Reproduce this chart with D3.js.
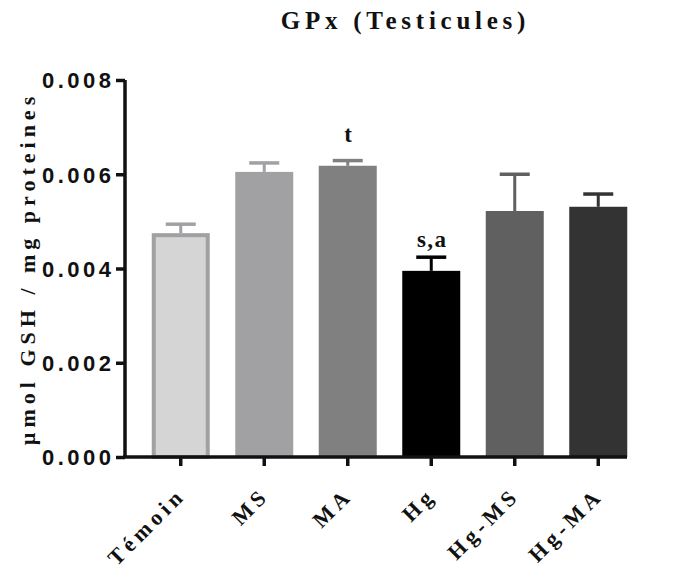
<!DOCTYPE html>
<html>
<head>
<meta charset="utf-8">
<script src="https://cdn.jsdelivr.net/npm/d3@7"></script>
<style>
  html, body { margin: 0; padding: 0; background: #fff; }
  svg { display: block; }
</style>
</head>
<body>
<svg id="chart" width="675" height="574"></svg>
<script>
const categories = ["Témoin", "MS", "MA", "Hg", "Hg-MS", "Hg-MA"];
const means = [0.00475, 0.00605, 0.00618, 0.00395, 0.00522, 0.00531];
const errors = [0.00019, 0.00019, 0.00011, 0.00029, 0.00078, 0.00027];
const annotations = ["", "", "t", "s,a", "", ""];
const annotationLevels = [null, null, 0.00668, 0.00446, null, null];
const yTicks = [0, 0.002, 0.004, 0.006, 0.008];
const fills = ["#d5d5d5", "#a1a1a4", "#808080", "#000000", "#606060", "#333333"];
const strokes = ["#a1a1a4", "#a1a1a4", "#808080", "#000000", "#606060", "#333333"];

const serif = "'Liberation Serif', 'Times New Roman', serif";
const sans = "'Liberation Sans', Arial, sans-serif";

const svg = d3.select("#chart");
const y = d3.scaleLinear().domain([0, 0.008]).range([457, 80]);
const x = d3.scaleBand().domain(categories).range([139, 640]).paddingInner(0.3).paddingOuter(0.15);

const axisX0 = 125, axisX1 = 627;

// bars
const g = svg.append("g");
categories.forEach((c, i) => {
  const bw = x.bandwidth();
  const cx = x(c) + bw / 2;
  const w = 58;
  const top = y(means[i]);
  const col = strokes[i];
  const et = y(means[i] + errors[i]);
  g.append("line").attr("x1", cx).attr("x2", cx).attr("y1", top).attr("y2", et)
    .attr("stroke", col).attr("stroke-width", 3);
  g.append("line").attr("x1", cx - 15).attr("x2", cx + 15).attr("y1", et).attr("y2", et)
    .attr("stroke", col).attr("stroke-width", 3.5);
  if (i === 0) {
    g.append("rect").attr("x", cx - w / 2 + 2).attr("y", top + 2).attr("width", w - 4)
      .attr("height", y(0) - top - 2).attr("fill", fills[i]).attr("stroke", col).attr("stroke-width", 4);
  } else {
    g.append("rect").attr("x", cx - w / 2).attr("y", top).attr("width", w)
      .attr("height", y(0) - top).attr("fill", fills[i]);
  }
  if (annotations[i]) {
    g.append("text").attr("x", cx).attr("y", y(annotationLevels[i])).attr("text-anchor", "middle")
      .attr("dx", 1)
      .style("font-family", serif).style("font-weight", "bold")
      .style("font-size", "23px").style("letter-spacing", "1.5px").attr("fill", "#111").text(annotations[i]);
  }
});

// y axis
const yAxis = d3.axisLeft(y).tickValues(yTicks).tickFormat(d3.format(".3f")).tickSize(9).tickPadding(5);
const ya = svg.append("g").attr("transform", `translate(${axisX0},0)`).call(yAxis);
ya.attr("font-family", null).attr("font-size", null);
ya.select(".domain").attr("d", `M0,${y(0.008)}V${y(0)}`).attr("stroke", "#111").attr("stroke-width", 3.5);
ya.selectAll(".tick line").attr("stroke", "#111").attr("stroke-width", 3.5);
ya.selectAll(".tick text").style("font-family", sans).style("font-weight", "bold")
  .style("font-size", "22px").style("letter-spacing", "3.5px").attr("fill", "#111")
  .attr("dx", 3.5).attr("dy", "0.36em");

// x axis
const xAxis = d3.axisBottom(x).tickSize(9).tickFormat("");
const xa = svg.append("g").attr("transform", `translate(0,${y(0)})`).call(xAxis);
xa.select(".domain").attr("d", `M${axisX0 - 2},0H${axisX1}`).attr("stroke", "#111").attr("stroke-width", 3.5);
xa.selectAll(".tick line").attr("stroke", "#111").attr("stroke-width", 3.5);

// x labels rotated
categories.forEach((c) => {
  const cx = x(c) + x.bandwidth() / 2;
  svg.append("text")
    .attr("transform", `translate(${cx - 8},${y(0) + 32}) rotate(-45)`)
    .attr("text-anchor", "end")
    .attr("dx", 4.5)
    .attr("dy", "0.7em")
    .style("font-family", serif).style("font-weight", "bold")
    .style("font-size", "22px").style("letter-spacing", "4.5px").attr("fill", "#111")
    .text(c);
});

// y label
svg.append("text")
  .attr("transform", `translate(35,271) rotate(-90)`)
  .attr("text-anchor", "middle")
  .attr("dx", 2.5)
  .style("font-family", serif).style("font-weight", "bold")
  .style("font-size", "22px").style("letter-spacing", "5px").attr("fill", "#111")
  .text("µmol GSH / mg proteines");

// title
svg.append("text")
  .attr("x", 403).attr("y", 29).attr("text-anchor", "middle")
  .attr("dx", 2.5)
  .style("font-family", serif).style("font-weight", "bold")
  .style("font-size", "25px").style("letter-spacing", "4.75px").attr("fill", "#111")
  .text("GPx (Testicules)");
</script>
</body>
</html>
